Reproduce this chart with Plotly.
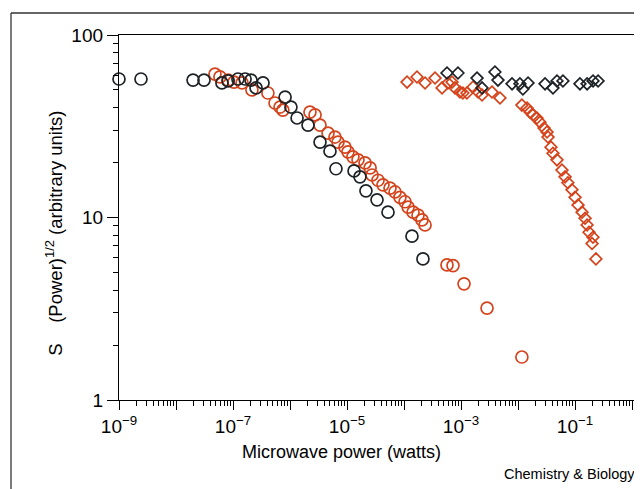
import plotly.graph_objects as go

# ---- data ----
black_circle_x = [1e-9, 2.43e-9, 1.99e-8, 3.1e-8, 6.4e-8, 8.2e-8, 1.22e-7, 1.63e-7, 2.07e-7,
                  2.54e-7, 3.36e-7, 8.2e-7, 1.04e-6, 1.33e-6, 2.07e-6, 3.36e-6, 5.03e-6, 6.4e-6,
                  1.33e-5, 1.69e-5, 2.15e-5, 3.36e-5, 5.24e-5, 1.38e-4, 2.15e-4]
black_circle_y = [57.4, 57.4, 56.6, 56.6, 54.6, 56.0, 57.4, 57.4, 56.6,
                  51.3, 54.6, 45.7, 40.3, 35.1, 32.1, 25.9, 23.1, 18.5,
                  18.0, 16.7, 14.0, 12.5, 10.7, 7.9, 5.93]

red_circle_x = [4.83e-8, 5.9e-8, 8.2e-8, 1.04e-7, 1.44e-7, 2.15e-7, 4.1e-7, 5.46e-7, 6.68e-7,
                7.5e-7, 2.24e-6, 2.75e-6, 3.36e-6, 4.65e-6, 6.15e-6, 6.95e-6, 9.2e-6, 1.04e-5,
                1.27e-5, 1.56e-5, 2.07e-5, 2.54e-5, 2.75e-5, 3.5e-5, 4.28e-5, 5.68e-5, 6.95e-5,
                8.5e-5, 1.04e-4, 1.18e-4, 1.44e-4, 1.76e-4, 2.07e-4, 2.34e-4, 5.68e-4, 7.24e-4,
                1.13e-3, 2.86e-3, 1.17e-2]
red_circle_y = [61.1, 58.9, 56.6, 55.2, 54.6, 50.0, 48.1, 42.4, 40.3,
                38.8, 37.8, 36.5, 32.1, 29.0, 27.6, 25.9, 24.3, 22.9,
                21.5, 20.7, 19.9, 18.7, 17.1, 16.0, 15.1, 14.5, 13.8,
                12.9, 12.2, 11.4, 10.7, 10.3, 9.7, 9.1, 5.5, 5.45,
                4.33, 3.19, 1.72]

black_diamond_x = [5.68e-4, 8.85e-4, 1.91e-3, 2.34e-3, 3.94e-3, 4.45e-3, 7.85e-3, 1.08e-2, 1.22e-2,
                   1.5e-2, 2.98e-2, 4.11e-2, 4.83e-2, 6.15e-2, 0.122, 0.163, 0.207, 0.254]
black_diamond_y = [61.9, 61.9, 58.1, 51.3, 62.7, 56.6, 54.0, 54.0, 50.6,
                   54.6, 54.0, 51.3, 56.0, 56.0, 54.0, 54.0, 56.0, 56.0]

red_diamond_x = [1.13e-4, 1.69e-4, 2.34e-4, 3.5e-4, 4.65e-4, 5.9e-4, 6.95e-4, 7.85e-4, 9.6e-4,
                 1.08e-3, 1.27e-3, 1.63e-3, 1.99e-3, 2.34e-3, 3.5e-3, 4.83e-3,
                 1.17e-2, 1.44e-2, 1.63e-2, 1.83e-2, 2.15e-2, 2.43e-2, 2.86e-2, 3.23e-2, 3.36e-2,
                 3.79e-2, 4.11e-2, 4.83e-2, 5.9e-2, 6.68e-2, 7.5e-2, 8.85e-2, 0.1, 0.113, 0.133,
                 0.150, 0.163, 0.176, 0.199, 0.207, 0.233]
red_diamond_y = [55.2, 58.9, 54.6, 58.1, 51.3, 54.6, 55.2, 51.3, 48.7,
                 48.1, 48.1, 51.9, 48.7, 46.9, 48.7, 45.2,
                 41.3, 39.8, 37.8, 36.5, 35.1, 33.3, 30.9, 29.4, 27.6,
                 24.3, 22.5, 20.7, 18.2, 16.7, 15.5, 14.2, 12.9, 11.7, 10.7,
                 9.9, 9.1, 8.3, 7.2, 7.8, 5.93]

x_tick_vals = [1e-9, 1e-8, 1e-7, 1e-6, 1e-5, 1e-4, 1e-3, 1e-2, 1e-1, 1e0]
x_tick_text = ["10<sup>−9</sup>", "", "10<sup>−7</sup>", "", "10<sup>−5</sup>", "",
               "10<sup>−3</sup>", "", "10<sup>−1</sup>", ""]
y_tick_vals = [1, 10, 100]
y_tick_text = ["1", "10", "100"]

RED = "#d4441c"
BLACK = "#1c2226"
FONT = "Liberation Sans, Arial, sans-serif"

fig = go.Figure()

def add(x, y, symbol, color, size):
    fig.add_trace(go.Scatter(
        x=x, y=y, mode="markers", cliponaxis=False, showlegend=False,
        marker=dict(symbol=symbol, size=size, color=color,
                    line=dict(color=color, width=1.7))))

add(red_circle_x, red_circle_y, "circle-open", RED, 12)
add(black_circle_x, black_circle_y, "circle-open", BLACK, 12)
add(red_diamond_x, red_diamond_y, "diamond-open", RED, 9)
add(black_diamond_x, black_diamond_y, "diamond-open", BLACK, 9)

axis_common = dict(showline=True, linecolor="black", linewidth=1.3, mirror=True,
                   showgrid=False, zeroline=False, ticks="outside", tickcolor="black",
                   tickfont=dict(family=FONT, size=19, color="black"))

fig.update_xaxes(type="log", range=[-9, 0.07], tickmode="array",
                 tickvals=x_tick_vals, ticktext=x_tick_text, ticklen=9, tickwidth=1.3,
                 minor=dict(ticks="outside", ticklen=5, tickwidth=1, tickcolor="black",
                            dtick="D1", showgrid=False),
                 **axis_common)
fig.update_yaxes(type="log", range=[0, 2], tickmode="array",
                 tickvals=y_tick_vals, ticktext=y_tick_text, ticklen=11, tickwidth=1.3,
                 minor=dict(ticks="outside", ticklen=5, tickwidth=1, tickcolor="black",
                            dtick="D1", showgrid=False),
                 **axis_common)

# page body has an 8px margin: figure spans 8..642 x 8..489
fig.update_layout(
    width=634, height=481,
    margin=dict(l=111, r=6, t=27, b=89),
    paper_bgcolor="white", plot_bgcolor="white",
    font=dict(family=FONT, color="black"),
    shapes=[
        dict(type="line", xref="paper", yref="paper", x0=-0.2089, x1=-0.2089,
             y0=1.0603, y1=-0.3, line=dict(color="#333", width=1.3)),
        dict(type="line", xref="paper", yref="paper", x0=-0.2089, x1=1.1,
             y0=1.0603, y1=1.0603, line=dict(color="#333", width=1.3)),
    ],
    annotations=[
        dict(text="Microwave power (watts)", xref="paper", yref="paper",
             x=0.431, y=-0.142, xanchor="center", yanchor="middle", showarrow=False,
             font=dict(family=FONT, size=18, color="black")),
        dict(text="S    (Power)<sup>1/2</sup> (arbitrary units)", xref="paper", yref="paper",
             x=-0.126, y=0.458, xanchor="center", yanchor="middle", showarrow=False,
             textangle=-90, font=dict(family=FONT, size=18.5, color="black")),
        dict(text="Chemistry &amp; Biology", xref="paper", yref="paper",
             x=0.741, y=-0.203, xanchor="left", yanchor="middle", showarrow=False,
             font=dict(family=FONT, size=14.5, color="black")),
    ],
)

fig.write_html("out.html")
